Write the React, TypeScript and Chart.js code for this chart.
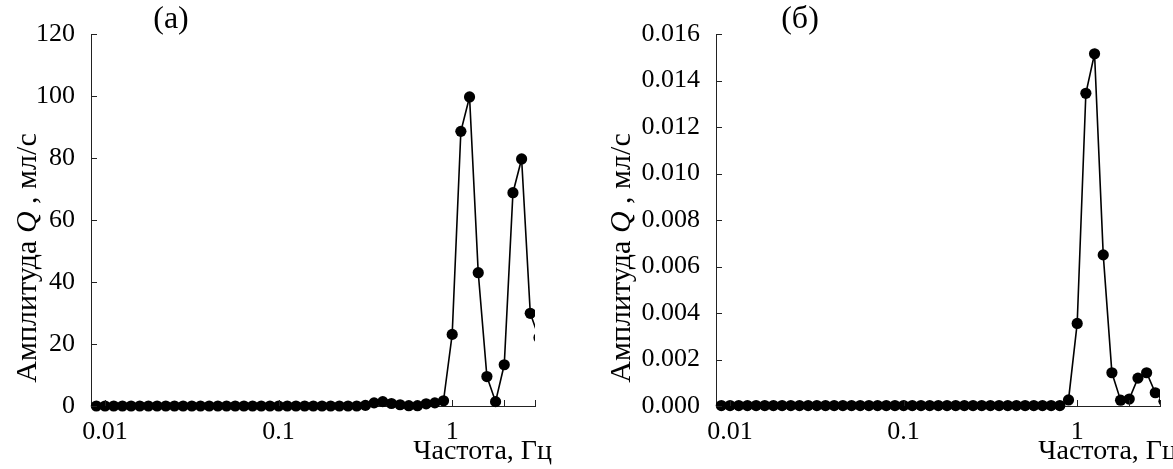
import React, { useEffect, useRef } from "react";
import { Chart, registerables } from "chart.js";

Chart.register(...registerables);

// Frequencies, Hz
const frequencies = [
  0.00891, 0.01, 0.01122, 0.01259, 0.01413, 0.01585, 0.01778, 0.01995, 0.02239, 0.02512,
  0.02818, 0.03162, 0.03548, 0.03981, 0.04467, 0.05012, 0.05623, 0.0631, 0.07079, 0.07943,
  0.08913, 0.1, 0.1122, 0.1259, 0.1413, 0.1585, 0.1778, 0.1995, 0.2239, 0.2512,
  0.2818, 0.3162, 0.3548, 0.3981, 0.4467, 0.5012, 0.5623, 0.631, 0.7079, 0.7943,
  0.8913, 1.0, 1.122, 1.259, 1.413, 1.585, 1.778, 1.995, 2.239, 2.512,
  2.818, 3.162,
];

// Panel (a): amplitude Q, ml/s
const amplitudeA = [
  0, 0, 0, 0, 0, 0, 0, 0, 0, 0,
  0, 0, 0, 0, 0, 0, 0, 0, 0, 0,
  0, 0, 0, 0, 0, 0, 0, 0, 0, 0,
  0, 0.2, 1.0, 1.4, 0.8, 0.4, 0.1, 0.1, 0.7, 1.0,
  1.7, 23.1, 88.6, 99.7, 43, 9.5, 1.4, 13.3, 68.8, 79.7,
  29.9, 22,
];

// Panel (б): amplitude Q, ml/s
const amplitudeB = [
  0.00002, 0.00002, 0.00002, 0.00002, 0.00002, 0.00002, 0.00002, 0.00002, 0.00002, 0.00002,
  0.00002, 0.00002, 0.00002, 0.00002, 0.00002, 0.00002, 0.00002, 0.00002, 0.00002, 0.00002,
  0.00002, 0.00002, 0.00002, 0.00002, 0.00002, 0.00002, 0.00002, 0.00002, 0.00002, 0.00002,
  0.00002, 0.00002, 0.00002, 0.00002, 0.00002, 0.00002, 0.00002, 0.00002, 0.00002, 0.00002,
  0.00026, 0.00355, 0.01345, 0.01515, 0.0065, 0.00143, 0.00025, 0.0003, 0.0012, 0.00143,
  0.00057, 0.0002,
];

const xTickValues = [0.01, 0.1, 1, 2, 3];
const xTickLabels = ["0.01", "0.1", "1", "", ""];
const yTicksA = [0, 20, 40, 60, 80, 100, 120];
const yLabelsA = ["0", "20", "40", "60", "80", "100", "120"];
const yTicksB = [0, 0.002, 0.004, 0.006, 0.008, 0.01, 0.012, 0.014, 0.016];
const yLabelsB = ["0.000", "0.002", "0.004", "0.006", "0.008", "0.010", "0.012", "0.014", "0.016"];
const xTitle = "Частота, Гц";
const yTitleParts = ["Амплитуда ", "Q", " , мл/с"];
const panelLabels = ["(а)", "(б)"];

const FONT = "'Liberation Serif', 'DejaVu Serif', serif";
const TICK_SIZE = 26;
const TITLE_SIZE = 28;
const YTITLE_SIZE = 30;

type PanelOpts = {
  values: number[];
  yTicks: number[];
  yLabels: string[];
  yMax: number;
  yAxisWidth: number;
  padRight: number;
  label: string;
  labelDx: number;
  yTitleX: number;
  yTitleY: number;
};

function makeDecor(o: PanelOpts) {
  return {
    id: "decor",
    afterDraw(chart: any) {
      const ctx = chart.ctx;
      const area = chart.chartArea;
      const xs = chart.scales.x;
      const ys = chart.scales.y;
      ctx.save();
      ctx.strokeStyle = "#222";
      ctx.lineWidth = 1;
      // inward ticks
      for (const v of xTickValues) {
        const px = Math.round(xs.getPixelForValue(v)) + 0.5;
        ctx.beginPath();
        ctx.moveTo(px, area.bottom);
        ctx.lineTo(px, area.bottom - 6);
        ctx.stroke();
      }
      for (const v of o.yTicks) {
        const py = Math.round(ys.getPixelForValue(v)) + 0.5;
        ctx.beginPath();
        ctx.moveTo(area.left, py);
        ctx.lineTo(area.left + 6, py);
        ctx.stroke();
      }
      ctx.fillStyle = "#000";
      // panel label
      ctx.font = `32px ${FONT}`;
      ctx.textAlign = "center";
      ctx.textBaseline = "middle";
      ctx.fillText(o.label, area.left + o.labelDx, 20);
      // x title
      ctx.font = `${TITLE_SIZE}px ${FONT}`;
      ctx.textAlign = "right";
      ctx.textBaseline = "alphabetic";
      ctx.fillText(xTitle, area.right + 17, 459);
      // y title (rotated, italic Q)
      ctx.translate(o.yTitleX, o.yTitleY);
      ctx.rotate(-Math.PI / 2);
      ctx.textAlign = "left";
      ctx.textBaseline = "middle";
      const fonts = [`${YTITLE_SIZE}px ${FONT}`, `italic ${YTITLE_SIZE}px ${FONT}`, `${YTITLE_SIZE}px ${FONT}`];
      let total = 0;
      const widths = yTitleParts.map((t, i) => {
        ctx.font = fonts[i];
        const w = ctx.measureText(t).width;
        total += w;
        return w;
      });
      let cx = -total / 2;
      yTitleParts.forEach((t, i) => {
        ctx.font = fonts[i];
        ctx.fillText(t, cx, 0);
        cx += widths[i];
      });
      ctx.restore();
    },
  };
}

function makeConfig(o: PanelOpts): any {
  return {
    type: "line",
    data: {
      datasets: [
        {
          data: frequencies.map((f, i) => ({ x: f, y: o.values[i] })),
          borderColor: "#000",
          borderWidth: 1.6,
          pointRadius: 5.6,
          pointHoverRadius: 5.6,
          pointBackgroundColor: "#000",
          pointBorderColor: "#000",
          pointBorderWidth: 0,
          tension: 0,
          clip: { left: 10, top: 10, right: 0, bottom: 10 },
        },
      ],
    },
    options: {
      animation: false,
      responsive: false,
      maintainAspectRatio: false,
      events: [],
      layout: { padding: { left: 0, right: o.padRight, top: 34, bottom: 0 } },
      plugins: { legend: { display: false }, tooltip: { enabled: false }, title: { display: false } },
      scales: {
        x: {
          type: "logarithmic",
          min: 0.0083,
          max: 3,
          afterBuildTicks: (s: any) => {
            s.ticks = xTickValues.map((v) => ({ value: v }));
          },
          afterFit: (s: any) => {
            s.height = 63;
          },
          ticks: {
            autoSkip: false,
            maxRotation: 0,
            minRotation: 0,
            padding: 3,
            color: "#000",
            font: { family: FONT, size: TICK_SIZE },
            callback: (v: number) => {
              const i = xTickValues.indexOf(v);
              return i >= 0 ? xTickLabels[i] : "";
            },
          },
          grid: { display: false },
          border: { display: true, color: "#222", width: 1 },
        },
        y: {
          type: "linear",
          min: 0,
          max: o.yMax,
          afterBuildTicks: (s: any) => {
            s.ticks = o.yTicks.map((v) => ({ value: v }));
          },
          afterFit: (s: any) => {
            s.width = o.yAxisWidth;
          },
          ticks: {
            autoSkip: false,
            padding: 8,
            color: "#000",
            font: { family: FONT, size: TICK_SIZE },
            callback: (v: number) => {
              const i = o.yTicks.findIndex((t) => Math.abs(t - v) < 1e-9);
              return i >= 0 ? o.yLabels[i] : "";
            },
          },
          grid: { display: false },
          border: { display: true, color: "#222", width: 1 },
        },
      },
    },
    plugins: [makeDecor(o)],
  };
}

function Panel({ opts, left, width }: { opts: PanelOpts; left: number; width: number }) {
  const ref = useRef<HTMLCanvasElement | null>(null);
  useEffect(() => {
    if (!ref.current) return;
    const chart = new Chart(ref.current, makeConfig(opts));
    return () => chart.destroy();
  }, []);
  return (
    <canvas
      ref={ref}
      width={width}
      height={469}
      style={{ position: "absolute", left, top: 0, width, height: 469 }}
    />
  );
}

const panelA: PanelOpts = {
  values: amplitudeA,
  yTicks: yTicksA,
  yLabels: yLabelsA,
  yMax: 120,
  yAxisWidth: 91,
  padRight: 51,
  label: panelLabels[0],
  labelDx: 80,
  yTitleX: 28,
  yTitleY: 258,
};

const panelB: PanelOpts = {
  values: amplitudeB,
  yTicks: yTicksB,
  yLabels: yLabelsB,
  yMax: 0.016,
  yAxisWidth: 130,
  padRight: 13,
  label: panelLabels[1],
  labelDx: 84,
  yTitleX: 36,
  yTitleY: 258,
};

export default function App() {
  return (
    <div style={{ position: "fixed", left: 0, top: 0, width: 1173, height: 469, background: "#fff", overflow: "hidden" }}>
      <Panel opts={panelA} left={0} width={586} />
      <Panel opts={panelB} left={586} width={587} />
    </div>
  );
}
